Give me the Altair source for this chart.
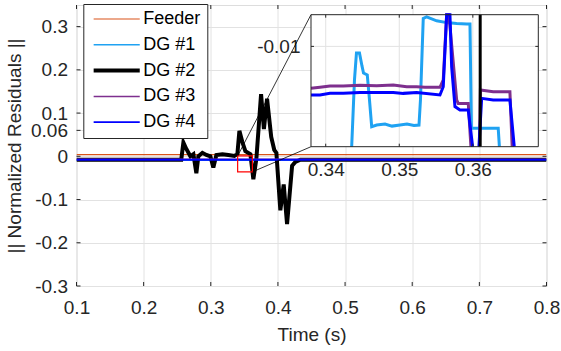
import altair as alt
import pandas as pd

FONT = "Liberation Sans"
INK = "#262626"
GRID = "#e2e2e2"

SERIES = ["Feeder", "DG #1", "DG #2", "DG #3", "DG #4"]
COLORS = ["#D95319", "#1FA2F2", "#000000", "#7E2F8E", "#0000FF"]
WIDTHS = [1.2, 1.5, 4, 1.5, 1.8]

# ---------------- main plot data ----------------
feeder_t = [0.1, 0.8]
feeder_v = [0.004, 0.004]
dg1_t = [0.1, 0.8]
dg1_v = [-0.009, -0.009]
dg3_t = [0.1, 0.8]
dg3_v = [-0.007, -0.007]
dg4_t = [0.1, 0.8]
dg4_v = [-0.008, -0.008]
dg2_t = [0.1, 0.256, 0.2592, 0.2636, 0.2696, 0.2741, 0.2785, 0.2815, 0.2875, 0.2934,
         0.2994, 0.3038, 0.3083, 0.3173, 0.3262, 0.3351, 0.3396, 0.3426, 0.3470, 0.3515,
         0.3590, 0.3634, 0.3679, 0.3749, 0.3791, 0.3838, 0.3900, 0.3945, 0.3977, 0.4036,
         0.4086, 0.4136, 0.4211, 0.4260, 0.4334, 0.8]
dg2_v = [-0.008, -0.008, 0.032, 0.017, 0.0, 0.005, -0.039, 0.0, 0.008, 0.003,
         0.0, -0.026, 0.003, 0.005, 0.003, 0.001, 0.005, 0.059, 0.033, 0.012,
         0.005, -0.053, -0.006, 0.144, 0.063, 0.133, 0.045, 0.015, 0.008, -0.125,
         -0.065, -0.157, -0.022, -0.013, -0.008, -0.008]

X_TICKS = [0.1, 0.2, 0.3, 0.4, 0.5, 0.6, 0.7, 0.8]
Y_TICKS = [-0.3, -0.2, -0.1, 0, 0.06, 0.1, 0.2, 0.3]

# zoom box drawn on the main plot
ZOOM_T = [0.340, 0.362]
ZOOM_V = [-0.036, 0.001]

# ---------------- inset data ----------------
in_dg1_t = [0.34353, 0.34391, 0.34418, 0.34459, 0.34493, 0.34514, 0.34565, 0.34595, 0.34625,
            0.34693, 0.34806, 0.34901, 0.35010, 0.35105, 0.35200, 0.35268, 0.35288, 0.35326,
            0.35372, 0.35508, 0.35644, 0.35780, 0.35916, 0.35961, 0.35981, 0.36345, 0.36361]
in_dg1_v = [-0.0138, -0.01127, -0.01025, -0.01025, -0.01074, -0.01101, -0.01108, -0.01203, -0.01304,
            -0.01298, -0.01294, -0.01302, -0.01298, -0.01294, -0.01300, -0.01298, -0.01203, -0.00894,
            -0.00888, -0.00903, -0.00910, -0.00913, -0.00915, -0.00915, -0.01310, -0.01310, -0.0138]
in_dg1_seg = [0] * 27

in_dg3_t = [0.338, 0.33922, 0.34058, 0.34239, 0.34466, 0.34693, 0.34918, 0.35101, 0.35236,
            0.35349, 0.35553, 0.35598, 0.35644, 0.35675, 0.35780, 0.35802, 0.35938, 0.35974,
            0.36090, 0.36103, 0.36277, 0.36504, 0.36535]
in_dg3_v = [-0.01159, -0.01155, -0.0115, -0.0115, -0.01147, -0.01149, -0.01146, -0.01153, -0.01153,
            -0.01155, -0.01155, -0.01127, -0.0088, -0.0088, -0.01203, -0.01216, -0.01216, -0.0138,
            -0.0138, -0.01165, -0.01172, -0.01172, -0.0138]
in_dg3_seg = [0] * 18 + [1] * 5

in_dg4_t = [0.338, 0.33922, 0.34058, 0.34239, 0.34466, 0.34693, 0.34918, 0.35054, 0.35236,
            0.35553, 0.35598, 0.35644, 0.35689, 0.35712, 0.35757, 0.35825, 0.35938, 0.35997,
            0.36083, 0.36120, 0.36277, 0.36504, 0.36563]
in_dg4_v = [-0.01184, -0.01184, -0.01178, -0.01178, -0.01175, -0.01175, -0.01175, -0.01178, -0.01175,
            -0.01184, -0.01153, -0.0088, -0.0088, -0.01077, -0.01228, -0.01241, -0.01241, -0.0138,
            -0.0138, -0.01197, -0.01203, -0.01203, -0.0138]
in_dg4_seg = [0] * 18 + [1] * 5

in_dg2_t = [0.3610, 0.3610]
in_dg2_v = [-0.0088, -0.0138]
in_dg2_seg = [0, 0]

IN_X = [0.338, 0.3689]
IN_Y = [-0.0138, -0.0088]
IN_XT = [0.34, 0.35, 0.36]
IN_YT = [-0.01]

# ---------------- layout ----------------
W, H = 470, 281
X_DOM = [0.1, 0.8]
Y_DOM = [-0.3, 0.35]
IN_PX_X = [234.5, 461.8]
IN_PX_Y = [141.7, 9.7]
TICK = 4
ITICK = 3

LAB = "(datum.value < 0 ? '-' : '') + format(abs(datum.value), '~g')"


def frame(series, t, v, seg=None):
    return pd.DataFrame({
        "series": series,
        "t": t,
        "v": v,
        "seg": seg if seg is not None else [0] * len(t),
        "i": list(range(len(t))),
    })


main_df = pd.concat([
    frame("Feeder", feeder_t, feeder_v),
    frame("DG #1", dg1_t, dg1_v),
    frame("DG #2", dg2_t, dg2_v),
    frame("DG #3", dg3_t, dg3_v),
    frame("DG #4", dg4_t, dg4_v),
], ignore_index=True)

inset_df = pd.concat([
    frame("DG #1", in_dg1_t, in_dg1_v, in_dg1_seg),
    frame("DG #2", in_dg2_t, in_dg2_v, in_dg2_seg),
    frame("DG #3", in_dg3_t, in_dg3_v, in_dg3_seg),
    frame("DG #4", in_dg4_t, in_dg4_v, in_dg4_seg),
], ignore_index=True)

one = pd.DataFrame({"k": [0]})
box_df = pd.DataFrame({"t0": [ZOOM_T[0]], "t1": [ZOOM_T[1]], "v0": [ZOOM_V[0]], "v1": [ZOOM_V[1]]})
xt_df = pd.DataFrame({"t": X_TICKS})
yt_df = pd.DataFrame({"v": Y_TICKS})
ixt_df = pd.DataFrame({"t": IN_XT})
iyt_df = pd.DataFrame({"v": IN_YT})

xs = alt.Scale(domain=X_DOM, nice=False, zero=False)
ys = alt.Scale(domain=Y_DOM, nice=False, zero=False)
xs_in = alt.Scale(domain=IN_X, range=IN_PX_X, nice=False, zero=False)
ys_in = alt.Scale(domain=IN_Y, range=IN_PX_Y, nice=False, zero=False)

common_axis = dict(labelExpr=LAB, ticks=False, domain=False, labelFont=FONT, labelFontSize=19,
                   labelColor=INK, labelFlush=False, labelOverlap=False)

x_axis = alt.Axis(orient="bottom", values=X_TICKS, title="Time (s)", grid=True, gridColor=GRID,
                  gridWidth=1, labelPadding=12, titleFont=FONT, titleFontSize=19,
                  titleFontWeight="normal", titleColor=INK, titlePadding=8, **common_axis)
y_axis = alt.Axis(orient="left", values=Y_TICKS, title="|| Normalized Residuals ||", grid=True,
                  gridColor=GRID, gridWidth=1, labelPadding=9, titleFont=FONT, titleFontSize=19,
                  titleFontWeight="normal", titleColor=INK, titlePadding=6, **common_axis)
xin_axis = alt.Axis(orient="bottom", offset=IN_PX_Y[0] - H, values=IN_XT, title=None, grid=False,
                    labelPadding=14, **common_axis)
yin_axis = alt.Axis(orient="left", offset=-IN_PX_X[0], values=IN_YT, title=None, grid=False,
                    labelPadding=11, **common_axis)

legend = alt.Legend(
    orient="none", legendX=6.8, legendY=-1, title=None,
    symbolType="M-5,0L5,0", symbolSize=85, symbolOffset=18.4,
    labelFont=FONT, labelFontSize=18, labelColor="#000000",
    fillColor="white", strokeColor=INK, padding=6, rowPadding=7.8, labelOffset=17.6,
)
color = alt.Color("series:N", scale=alt.Scale(domain=SERIES, range=COLORS), legend=legend)
swidth = alt.StrokeWidth("series:N", scale=alt.Scale(type="ordinal", domain=SERIES, range=WIDTHS),
                         legend=legend)


def main_line(name, with_axis=False):
    return alt.Chart(main_df).transform_filter(alt.datum.series == name).mark_line(clip=True).encode(
        x=alt.X("t:Q", scale=xs, axis=x_axis if with_axis else None),
        y=alt.Y("v:Q", scale=ys, axis=y_axis if with_axis else None),
        color=color,
        strokeWidth=swidth,
        order="i:Q",
    )


main_lines = [main_line(s, s == "Feeder") for s in SERIES]

zoom_box = alt.Chart(box_df).mark_rect(fill="white", fillOpacity=0, stroke="#FF0000", strokeWidth=1.2).encode(
    x=alt.X("t0:Q", scale=xs, axis=None), x2="t1:Q",
    y=alt.Y("v0:Q", scale=ys, axis=None), y2="v1:Q")

conn1 = alt.Chart(box_df).mark_rule(color="#000000", strokeWidth=0.8).encode(
    x=alt.X("t0:Q", scale=xs, axis=None), y=alt.Y("v1:Q", scale=ys, axis=None),
    x2=alt.value(IN_PX_X[0]), y2=alt.value(IN_PX_Y[1]))
conn2 = alt.Chart(box_df).mark_rule(color="#000000", strokeWidth=0.8).encode(
    x=alt.X("t1:Q", scale=xs, axis=None), y=alt.Y("v0:Q", scale=ys, axis=None),
    x2=alt.value(IN_PX_X[0]), y2=alt.value(IN_PX_Y[0]))

tick_bottom = alt.Chart(xt_df).mark_rule(color=INK, strokeWidth=1).encode(
    x=alt.X("t:Q", scale=xs, axis=None), y=alt.YDatum(Y_DOM[0], scale=ys, axis=None), y2=alt.value(H - TICK))
tick_top = alt.Chart(xt_df).mark_rule(color=INK, strokeWidth=1).encode(
    x=alt.X("t:Q", scale=xs, axis=None), y=alt.YDatum(Y_DOM[1], scale=ys, axis=None), y2=alt.value(TICK))
tick_left = alt.Chart(yt_df).mark_rule(color=INK, strokeWidth=1).encode(
    y=alt.Y("v:Q", scale=ys, axis=None), x=alt.XDatum(X_DOM[0], scale=xs, axis=None), x2=alt.value(TICK))
tick_right = alt.Chart(yt_df).mark_rule(color=INK, strokeWidth=1).encode(
    y=alt.Y("v:Q", scale=ys, axis=None), x=alt.XDatum(X_DOM[1], scale=xs, axis=None), x2=alt.value(W - TICK))

# ---------------- inset ----------------
in_bg = alt.Chart(one).mark_rect(fill="white").encode(
    x=alt.XDatum(IN_X[0], scale=xs_in, axis=None), x2=alt.X2Datum(IN_X[1]),
    y=alt.YDatum(IN_Y[0], scale=ys_in, axis=None), y2=alt.Y2Datum(IN_Y[1]))
in_gridx = alt.Chart(ixt_df).mark_rule(color=GRID, strokeWidth=1).encode(
    x=alt.X("t:Q", scale=xs_in, axis=None),
    y=alt.YDatum(IN_Y[0], scale=ys_in, axis=None), y2=alt.Y2Datum(IN_Y[1]))
in_gridy = alt.Chart(iyt_df).mark_rule(color=GRID, strokeWidth=1).encode(
    y=alt.Y("v:Q", scale=ys_in, axis=None),
    x=alt.XDatum(IN_X[0], scale=xs_in, axis=None), x2=alt.X2Datum(IN_X[1]))


def inset_line(name, w, with_axis=False):
    return alt.Chart(inset_df).transform_filter(alt.datum.series == name).mark_line(
        strokeWidth=w).encode(
        x=alt.X("t:Q", scale=xs_in, axis=xin_axis if with_axis else None),
        y=alt.Y("v:Q", scale=ys_in, axis=yin_axis if with_axis else None),
        color=color,
        detail="seg:N",
        order="i:Q",
    )


in_lines = [inset_line("DG #1", 3, True), inset_line("DG #3", 3), inset_line("DG #4", 3),
            inset_line("DG #2", 3)]

in_frame = alt.Chart(one).mark_rect(fill="white", fillOpacity=0, stroke=INK, strokeWidth=1).encode(
    x=alt.XDatum(IN_X[0], scale=xs_in, axis=None), x2=alt.X2Datum(IN_X[1]),
    y=alt.YDatum(IN_Y[0], scale=ys_in, axis=None), y2=alt.Y2Datum(IN_Y[1]))

in_tick_b = alt.Chart(ixt_df).mark_rule(color=INK, strokeWidth=1).encode(
    x=alt.X("t:Q", scale=xs_in, axis=None), y=alt.YDatum(IN_Y[0], scale=ys_in, axis=None),
    y2=alt.value(IN_PX_Y[0] - ITICK))
in_tick_t = alt.Chart(ixt_df).mark_rule(color=INK, strokeWidth=1).encode(
    x=alt.X("t:Q", scale=xs_in, axis=None), y=alt.YDatum(IN_Y[1], scale=ys_in, axis=None),
    y2=alt.value(IN_PX_Y[1] + ITICK))
in_tick_l = alt.Chart(iyt_df).mark_rule(color=INK, strokeWidth=1).encode(
    y=alt.Y("v:Q", scale=ys_in, axis=None), x=alt.XDatum(IN_X[0], scale=xs_in, axis=None),
    x2=alt.value(IN_PX_X[0] + ITICK))
in_tick_r = alt.Chart(iyt_df).mark_rule(color=INK, strokeWidth=1).encode(
    y=alt.Y("v:Q", scale=ys_in, axis=None), x=alt.XDatum(IN_X[1], scale=xs_in, axis=None),
    x2=alt.value(IN_PX_X[1] - ITICK))

chart = alt.layer(
    *main_lines, zoom_box, conn1, conn2, tick_bottom, tick_top, tick_left, tick_right,
    in_bg, in_gridx, in_gridy, *in_lines, in_frame, in_tick_b, in_tick_t, in_tick_l, in_tick_r,
).resolve_scale(x="independent", y="independent").properties(
    width=W, height=H,
    autosize=alt.AutoSizeParams(type="none"),
    padding={"left": 76.5, "top": 5, "right": 14.5, "bottom": 65},
).configure_view(stroke=INK, strokeWidth=1).configure(font=FONT, background="white")

chart.save("out.html", embed_options={"renderer": "svg", "actions": False})
